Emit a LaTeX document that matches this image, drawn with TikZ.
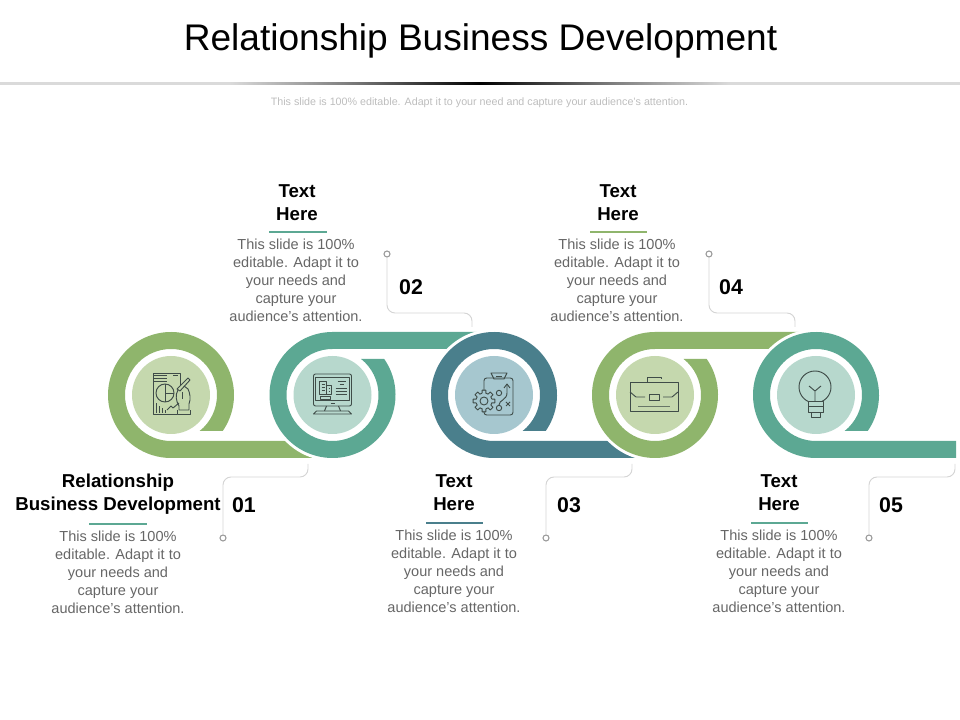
\documentclass[tikz,border=0pt]{standalone}
\usepackage{fontspec}
\setmainfont{Liberation Sans}
\definecolor{grnR}{HTML}{8FB56C}
\definecolor{tealR}{HTML}{5CA893}
\definecolor{blueR}{HTML}{4A7F8C}
\definecolor{grnP}{HTML}{C5D8AE}
\definecolor{tealP}{HTML}{B7D8CD}
\definecolor{blueP}{HTML}{A6C7CF}
\definecolor{iconC}{HTML}{3F4C48}
\definecolor{leadC}{HTML}{D4D4D4}
\definecolor{dotC}{HTML}{9A9A9A}
\definecolor{bodyC}{HTML}{666666}
\definecolor{subC}{HTML}{BDBDBD}
\definecolor{ruleC}{HTML}{DADADA}
\pgfdeclarehorizontalshading{rulefade}{100bp}{color(0bp)=(ruleC);color(25bp)=(ruleC);color(37bp)=(ruleC);color(43bp)=(gray);color(50bp)=(black);color(57bp)=(gray);color(63bp)=(ruleC);color(75bp)=(ruleC);color(100bp)=(ruleC)}
\tikzset{
  halo/.style={circle,fill=white,draw=none,minimum size=99pt,inner sep=0pt},
  disc/.style={circle,draw=none,minimum size=58.5pt,inner sep=0pt},
  dotn/.style={circle,draw=dotC,fill=white,line width=.8pt,minimum size=4.5pt,inner sep=0pt},
  leader/.style={draw=leadC,line width=.7pt,rounded corners=6pt},
  numb/.style={font=\fontsize{16pt}{18pt}\selectfont\bfseries,text=black},
  head/.style={font=\fontsize{14pt}{17.25pt}\selectfont\bfseries,align=center,text=black,inner sep=0pt},
  body/.style={font=\fontsize{10.9pt}{13.5pt}\selectfont,align=center,text=bodyC,inner sep=0pt},
  ico/.style={draw=iconC,line width=.7pt,line join=round},
}
\newcommand{\ringLow}[3]{% centre x, colour, band end
  \fill[#2] (#1+28.6,289) -- (#1+51.7,289) arc[start angle=-34.85,end angle=270,radius=63]
    -- (#3,262) -- (#3,279) -- (#1,279) arc[start angle=270,end angle=-51.5,radius=46] -- cycle;}
\newcommand{\ringHigh}[3]{%
  \fill[#2] (#1+28.6,361) -- (#1+51.7,361) arc[start angle=34.85,end angle=-270,radius=63]
    -- (#3,388) -- (#3,371) -- (#1,371) arc[start angle=-270,end angle=51.5,radius=46] -- cycle;}
\begin{document}
\begin{tikzpicture}[x=.75pt,y=.75pt]
\useasboundingbox (0,0) rectangle (960,720);
\node[font=\fontsize{27.8pt}{30pt}\selectfont,inner sep=0pt] (title) at (480.5,679) {Relationship Business Development};
\shade[shading=rulefade] (0,635.8) rectangle (960,637.4);
\node[font=\fontsize{8.04pt}{9pt}\selectfont,text=subC,inner sep=0pt] (sub) at (479.5,617) {This slide is 100\% editable. Adapt it to your need and capture your audience's attention.};

% rings, left to right, each over the band of the one before
\ringLow{171}{grnR}{340}
\node[disc,fill=grnP] (d1) at (171,325) {};
\node[halo] (h2) at (332.5,325) {};
\ringHigh{332.5}{tealR}{500}
\node[disc,fill=tealP] (d2) at (332.5,325) {};
\node[halo] (h3) at (494,325) {};
\ringLow{494}{blueR}{660}
\node[disc,fill=blueP] (d3) at (494,325) {};
\node[halo] (h4) at (655,325) {};
\ringHigh{655}{grnR}{820}
\node[disc,fill=grnP] (d4) at (655,325) {};
\node[halo] (h5) at (816,325) {};
\ringLow{816}{tealR}{956}
\node[disc,fill=tealP] (d5) at (816,325) {};

% icon 1
\begin{scope}[shift={(171,325)},y=-.75pt]
\draw[ico] (9,-10) -- (9,-22) -- (-18,-22) -- (-18,19) -- (6,19);
\draw[ico] (-17,-20) -- (-4,-20) (-17,-17) -- (-4,-17) (-17,-14) -- (-4,-14) (2,-20) -- (7,-20);
\draw[ico] (-6,-2) circle (9);
\draw[ico] (-6,-11) -- (-6,-2) -- (3,-2) (-6,-2) -- (-6,7);
\draw[ico] (-15,18) -- (-15,8) (-12,18) -- (-12,11) (-9,18) -- (-9,13) (-6,18) -- (-6,15);
\draw[ico] (-4,15) -- (0,11) -- (2,13) -- (8,8);
\draw[ico] (6,-6) -- (17,-17) -- (19,-15) -- (9,-4) -- cycle;
\draw[ico] (7,-5) .. controls (4,0) and (5,6) .. (8,11) -- (8,15) -- (18,15) -- (18,9) .. controls (20,4) and (19,-2) .. (17,-6) -- (13,-9);
\draw[ico] (6,15) -- (6,19) -- (19,19) -- (19,15);
\draw[ico] (11,-3) -- (11,4);
\end{scope}

% icon 2
\begin{scope}[shift={(332.5,325)},y=-.75pt]
\draw[ico,rounded corners=1.5pt] (-19,-21) rectangle (19,11);
\draw[ico] (-17,-18) rectangle (17,5);
\draw[ico] (-13,-14) rectangle (-6,-1);
\draw[ico] (-6,-10) rectangle (-1,-1);
\draw[ico] (-11,-11) -- (-8,-11) (-11,-8) -- (-8,-8) (-11,-5) -- (-8,-5) (-4,-7) -- (-3,-7) (-4,-4) -- (-3,-4);
\draw[ico] (-12,1) rectangle (-2,4);
\draw[ico] (5,-14) -- (13,-14) (7,-11) -- (11,-11) (3,-7) -- (14,-7) (3,-4) -- (14,-4) (3,-1) -- (14,-1);
\draw[ico] (-2,8) -- (2,8);
\draw[ico] (-6,11) -- (-8,16) (6,11) -- (8,16);
\draw[ico] (-16,16) -- (16,16) -- (19,19) -- (-19,19) -- cycle;
\end{scope}

% icon 3
\begin{scope}[shift={(494,325)},y=-.75pt]
\draw[ico,rounded corners=2pt] (-10,-4) -- (-10,-17) -- (19,-17) -- (19,20) -- (-10,20) -- (-10,16);
\draw[ico] (-3,-22) -- (13,-22) -- (10,-16) -- (0,-16) -- cycle;
\draw[ico] (2,-19) -- (8,-19);
\draw[ico] (-10,6) circle (4);
\foreach \a in {0,45,...,315}{
  \draw[ico] ({-10+8*cos(\a-14)},{6+8*sin(\a-14)}) -- ({-10+11*cos(\a-10)},{6+11*sin(\a-10)}) -- ({-10+11*cos(\a+10)},{6+11*sin(\a+10)}) -- ({-10+8*cos(\a+14)},{6+8*sin(\a+14)}) -- ({-10+8*cos(\a+31)},{6+8*sin(\a+31)});
}
\draw[ico] (5,-2) circle (2.7);
\draw[ico] (5,13) circle (2.7);
\draw[ico] (5,10) .. controls (5,5) and (13,5) .. (13,-2) -- (13,-10);
\draw[ico] (10,-7) -- (13,-11) -- (16,-7);
\draw[ico] (12,7) -- (16,11) (16,7) -- (12,11);
\end{scope}

% icon 4
\begin{scope}[shift={(655,325)},y=-.75pt]
\draw[ico] (-25,-13) rectangle (23,16);
\draw[ico] (-8,-13) -- (-8,-18) -- (6,-18) -- (6,-16);
\draw[ico] (-25,-3) -- (-19,2) -- (-10,2) (8,2) -- (17,2) -- (23,-3);
\draw[ico] (-6,-1) rectangle (4,5);
\draw[ico,line width=1.1pt,draw=iconC!70!grnP] (-17,11.5) -- (15,11.5);
\end{scope}

% icon 5
\begin{scope}[shift={(816,325)},y=-.75pt]
\draw[ico] (-1,-8) circle (16);
\draw[ico,fill=tealP] (-8,6) rectangle (7,11);
\draw[ico,fill=tealP] (-8,11) rectangle (7,17);
\draw[ico,fill=tealP] (-5,17) rectangle (4,22);
\draw[ico] (-1,6) -- (-1,-4) (-7,-9) -- (-1,-4) -- (5,-9);
\end{scope}

% leaders
\node[dotn] (p1) at (223,182) {};
\node[dotn] (p2) at (387,466) {};
\node[dotn] (p3) at (546,182) {};
\node[dotn] (p4) at (709,466) {};
\node[dotn] (p5) at (869,182) {};
\coordinate (e1) at (308,256);
\coordinate (e2) at (472,393);
\coordinate (e3) at (632,256);
\coordinate (e4) at (795,393);
\coordinate (e5) at (955,256);
\draw[leader] (p1.north) |- (e1 |- 0,243) -- (e1);
\draw[leader] (p2.south) |- (e2 |- 0,407) -- (e2);
\draw[leader] (p3.north) |- (e3 |- 0,243) -- (e3);
\draw[leader] (p4.south) |- (e4 |- 0,407) -- (e4);
\draw[leader] (p5.north) |- (e5 |- 0,243) -- (e5);

\node[numb] (n1) at (244,215) {01};
\node[numb] (n2) at (411,433) {02};
\node[numb] (n3) at (569,215) {03};
\node[numb] (n4) at (731,433) {04};
\node[numb] (n5) at (891,215) {05};

% text blocks
\node[head] (t1) at (118,225.5) {Relationship\\Business Development};
\draw[draw=tealR,line width=1.1pt] (89,196) -- (147,196);
\node[body] (b1) at (118,148) {This slide is 100\%\\editable. Adapt it to\\your needs and\\capture your\\audience's attention.};

\node[head] (t2) at (297,517.5) {Text\\Here};
\draw[draw=tealR,line width=.9pt] (269,488) -- (327,488);
\node[body] (b2) at (296,440) {This slide is 100\%\\editable. Adapt it to\\your needs and\\capture your\\audience's attention.};

\node[head] (t3) at (454,227.5) {Text\\Here};
\draw[draw=blueR,line width=.9pt] (426,197) -- (483,197);
\node[body] (b3) at (454,149) {This slide is 100\%\\editable. Adapt it to\\your needs and\\capture your\\audience's attention.};

\node[head] (t4) at (618,517.5) {Text\\Here};
\draw[draw=grnR,line width=.9pt] (590,488) -- (647,488);
\node[body] (b4) at (617,440) {This slide is 100\%\\editable. Adapt it to\\your needs and\\capture your\\audience's attention.};

\node[head] (t5) at (779,227.5) {Text\\Here};
\draw[draw=tealR,line width=.9pt] (751,197) -- (808,197);
\node[body] (b5) at (779,149) {This slide is 100\%\\editable. Adapt it to\\your needs and\\capture your\\audience's attention.};
\end{tikzpicture}
\end{document}
